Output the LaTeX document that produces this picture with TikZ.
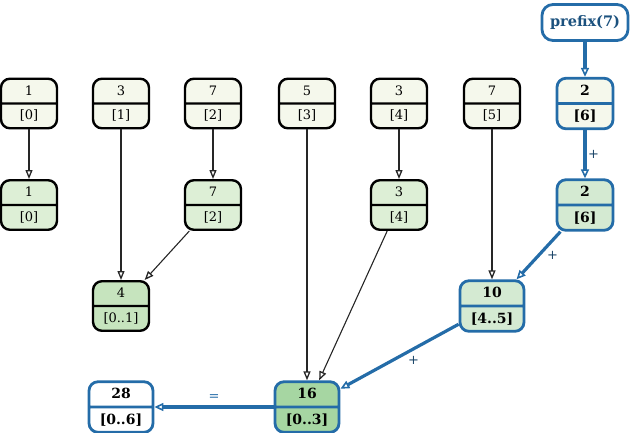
\documentclass[tikz,border=0pt]{standalone}
\usepackage{fontspec}
\setmainfont{DejaVu Serif}
\usetikzlibrary{shapes.multipart,arrows.meta}
\definecolor{gblue}{RGB}{36,108,168}
\definecolor{fa}{HTML}{F5F8EC}
\definecolor{fb}{HTML}{DDEFD6}
\definecolor{fc}{HTML}{C6E4BE}
\definecolor{fd}{HTML}{A6D6A2}
\definecolor{fe}{HTML}{D4EAD2}
\newcommand\vv[1]{\vphantom{[}#1}
\tikzset{
  cell/.style={rectangle split, rectangle split parts=2, draw=black, rounded corners=9pt,
    line width=2.4pt, minimum width=56pt, inner ysep=5.4pt,
    font=\fontsize{13}{15}\selectfont, text=black},
  bcell/.style={cell, draw=gblue, line width=2.8pt, inner ysep=5.0pt,
    font=\fontsize{14}{16}\selectfont\bfseries, text=black},
  wide/.style={minimum width=64pt},
  edge/.style={draw=black!85, line width=1.1pt,
    -{Triangle[open, length=9pt, width=7pt, line width=1.3pt]}},
  bedge/.style={draw=gblue, line width=3.2pt,
    -{Triangle[open, length=9pt, width=8pt, line width=1.6pt]}},
  elabel/.style={text=gblue!60!black, font=\fontsize{13}{15}\selectfont, inner sep=1pt}
}
\begin{document}
\begin{tikzpicture}[x=1pt,y=-1pt]
\useasboundingbox (0,0) rectangle (634,432);
% row 1
\node[cell, fill=fa] (n0) at (29,103.5) {\vv{1}\nodepart{two}\vv{[0]}};
\node[cell, fill=fa] (n1) at (121,103.5) {\vv{3}\nodepart{two}\vv{[1]}};
\node[cell, fill=fa] (n2) at (213,103.5) {\vv{7}\nodepart{two}\vv{[2]}};
\node[cell, fill=fa] (n3) at (307,103.5) {\vv{5}\nodepart{two}\vv{[3]}};
\node[cell, fill=fa] (n4) at (399,103.5) {\vv{3}\nodepart{two}\vv{[4]}};
\node[cell, fill=fa] (n5) at (492,103.5) {\vv{7}\nodepart{two}\vv{[5]}};
\node[bcell, fill=fa] (n6) at (585,103.5) {\vv{2}\nodepart{two}\vv{[6]}};
% prefix
\node[draw=gblue, line width=2.8pt, rounded corners=11pt, fill=white,
  minimum width=86pt, minimum height=36pt, text=gblue!75!black,
  font=\fontsize{14.5}{16}\selectfont\bfseries] (pre) at (585,22.5) {prefix(7)};
% row 2
\node[cell, fill=fb] (m0) at (29,205) {\vv{1}\nodepart{two}\vv{[0]}};
\node[cell, fill=fb] (m2) at (213,205) {\vv{7}\nodepart{two}\vv{[2]}};
\node[cell, fill=fb] (m4) at (399,205) {\vv{3}\nodepart{two}\vv{[4]}};
\node[bcell, fill=fe] (m6) at (585,205) {\vv{2}\nodepart{two}\vv{[6]}};
% row 3
\node[cell, fill=fc] (a01) at (121,306) {\vv{4}\nodepart{two}\vv{[0..1]}};
\node[bcell, wide, fill=fe] (a45) at (492,306) {\vv{10}\nodepart{two}\vv{[4..5]}};
% row 4
\node[bcell, wide, fill=fd] (a03) at (307,407) {\vv{16}\nodepart{two}\vv{[0..3]}};
\node[bcell, wide, fill=white] (a06) at (121,407) {\vv{28}\nodepart{two}\vv{[0..6]}};
% black edges
\draw[edge] (n0) -- (m0);
\draw[edge] (n1) -- (a01);
\draw[edge] (n2) -- (m2);
\draw[edge] (m2) -- (a01);
\draw[edge] (n3) -- (a03);
\draw[edge] (n4) -- (m4);
\draw[edge] (m4) -- (a03);
\draw[edge] (n5) -- (a45);
% blue edges
\draw[bedge] (pre) -- (n6);
\draw[bedge] (n6) -- node[elabel, right=0.5pt] {+} (m6);
\draw[bedge] (m6) -- node[elabel, right=6pt] {+} (a45);
\draw[bedge] (a45) -- node[elabel, pos=0.38, below=5pt] {+} (a03);
\draw[bedge] (a03) -- node[elabel, above=4pt, text=gblue] {=} (a06);
\end{tikzpicture}
\end{document}
